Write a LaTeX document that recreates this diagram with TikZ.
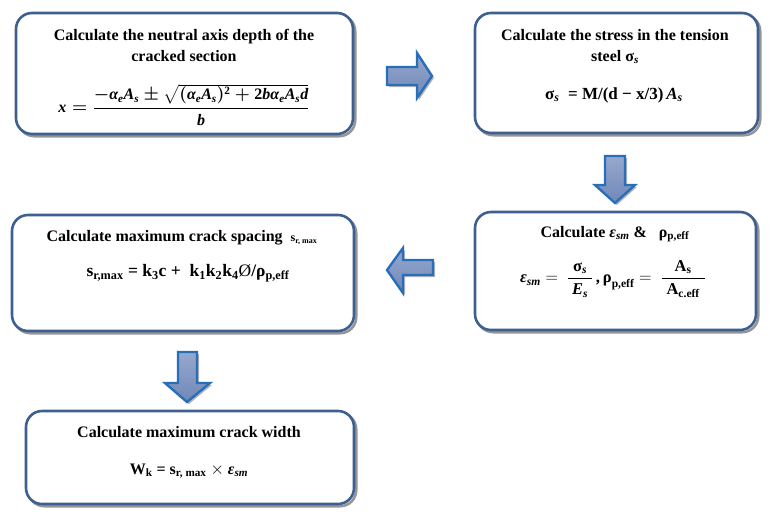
\documentclass[tikz,border=0pt]{standalone}
\usepackage{amsmath,amssymb}
\usepackage{graphicx}
\usepackage{fontspec}
\setmainfont{Liberation Serif}
\definecolor{boxblue}{RGB}{62,96,145}
\definecolor{shadowgray}{RGB}{150,150,150}
\definecolor{arrowedge}{RGB}{40,110,185}
\definecolor{arrowfillA}{RGB}{150,168,205}
\definecolor{arrowfillB}{RGB}{112,136,184}
\newsavebox{\eqAbox}
\newsavebox{\eqBbox}
\newsavebox{\eqCbox}
\newsavebox{\eqDbox}
\newsavebox{\eqEbox}
\newsavebox{\ttlBbox}
\newsavebox{\ttlCbox}
\newsavebox{\ttlDbox}
\newcommand{\bi}[1]{\textbf{\textit{#1}}}
\newcommand{\sub}[1]{\textsubscript{#1}}
\newcommand{\mv}[1]{\text{\bfseries\itshape #1}}
\tikzset{
  flowbox/.style={draw=boxblue, line width=2.6pt, rounded corners=16pt, fill=white,
    rectangle, inner sep=0pt,
    preaction={draw=shadowgray, line width=2.6pt, transform canvas={shift={(2.2pt,-2.2pt)}}}},
  ttl/.style={font=\bfseries\fontsize{16}{21}\selectfont, align=center, inner sep=0pt, text=black},
  eqn/.style={inner sep=0pt, text=black},
  blockarrow/.style={draw=arrowedge, line width=2.4pt, line join=miter,
    top color=arrowfillA, bottom color=arrowfillB,
    preaction={fill=shadowgray!70, transform canvas={shift={(2pt,-2pt)}}}},
}
\begin{document}
\fontsize{15}{18}\selectfont
\sbox{\eqAbox}{\fontsize{16}{18}\selectfont\boldmath$\mv{x}=\dfrac{-\mv{α}_{\mv{e}}\mv{A}_{\mv{s}} \pm \sqrt{(\mv{α}_{\mv{e}}\mv{A}_{\mv{s}})^{\text{\bfseries 2}}+\text{\bfseries 2}\mv{bα}_{\mv{e}}\mv{A}_{\mv{s}}\mv{d}}}{\mv{b}}$}
\sbox{\eqBbox}{\fontsize{17}{20}\selectfont\bfseries σ\sub{\textit{s}}\ \ = M/(d − x/3)\,\bi{A}\sub{\bi{s}}}
\sbox{\eqCbox}{\fontsize{16.5}{20}\selectfont\bfseries $\text{\itshape ε}_{\text{\itshape sm}}=\ \dfrac{\;\text{σ}_{\text{\itshape s}}\;}{\text{\itshape E}_{\text{\itshape s}}}\,\text{,}\,\text{ρ}_{\text{p,eff}}=\ \dfrac{\text{A}_{\text{s}}}{\;\text{A}_{\text{c.eff}}\;}$}
\sbox{\eqDbox}{\fontsize{17.5}{20}\selectfont\bfseries s\sub{r,max} = k\sub{3}c +\ \ k\sub{1}k\sub{2}k\sub{4}{\mdseries Ø}/ρ\sub{p,eff}}
\sbox{\eqEbox}{\fontsize{16}{18}\selectfont\bfseries W\sub{k} = s\sub{r, max} $\times$ \bi{ε}\sub{\bi{sm}}}
\sbox{\ttlBbox}{\bfseries\fontsize{16}{21}\selectfont steel σ\sub{\textit{s}}}
\sbox{\ttlCbox}{\bfseries\fontsize{16}{21}\selectfont Calculate \bi{ε}\sub{\bi{sm}} \&\ \ \ {\fontsize{16}{18}\selectfont ρ\sub{p,eff}}}
\sbox{\ttlDbox}{\bfseries\fontsize{16}{21}\selectfont Calculate maximum crack spacing\ \ {\fontsize{12}{14}\selectfont s\sub{r, max}}}
\begin{tikzpicture}[x=1pt,y=-1pt]
\useasboundingbox (0,0) rectangle (775,517);
% boxes
\node[flowbox, minimum width=337pt, minimum height=121pt] (b1) at (184.5,73.5) {};
\node[flowbox, minimum width=283pt, minimum height=120pt] (b2) at (616.5,73) {};
\node[flowbox, minimum width=281pt, minimum height=118pt] (b3) at (615.5,271) {};
\node[flowbox, minimum width=342pt, minimum height=116pt] (b4) at (183,273) {};
\node[flowbox, minimum width=328pt, minimum height=93pt] (b5) at (190,457.5) {};
% texts
\node[ttl] (t1) at (184,45) {Calculate the neutral axis depth of the\\cracked section};
\node[eqn] (e1) at (184,105) {\usebox{\eqAbox}};
\node[ttl] (t2a) at (615,35) {Calculate the stress in the tension};
\node[eqn] (t2b) at (615,57) {\usebox{\ttlBbox}};
\node[eqn] (e2) at (614,95) {\usebox{\eqBbox}};
\node[eqn] (t3) at (615,234) {\usebox{\ttlCbox}};
\node[eqn] (e3) at (613,279) {\usebox{\eqCbox}};
\node[eqn] (t4) at (182,238) {\usebox{\ttlDbox}};
\node[eqn] (e4) at (188,273) {\usebox{\eqDbox}};
\node[ttl] (t5) at (189,432) {Calculate maximum crack width};
\node[eqn] (e5) at (189,471) {\usebox{\eqEbox}};
% block arrows
\path[blockarrow] (387,67) -- (417,67) -- (417,53) -- (432,76) -- (417,98) -- (417,85) -- (387,85) -- cycle;
\path[blockarrow] (605,156) -- (625,156) -- (625,185) -- (635,185) -- (615,203) -- (595,185) -- (605,185) -- cycle;
\path[blockarrow] (433,260) -- (403,260) -- (403,248) -- (387,270) -- (403,293) -- (403,275) -- (433,275) -- cycle;
\path[blockarrow] (178,352) -- (197,352) -- (197,383) -- (210,383) -- (187,402) -- (165,383) -- (178,383) -- cycle;
\end{tikzpicture}
\end{document}
